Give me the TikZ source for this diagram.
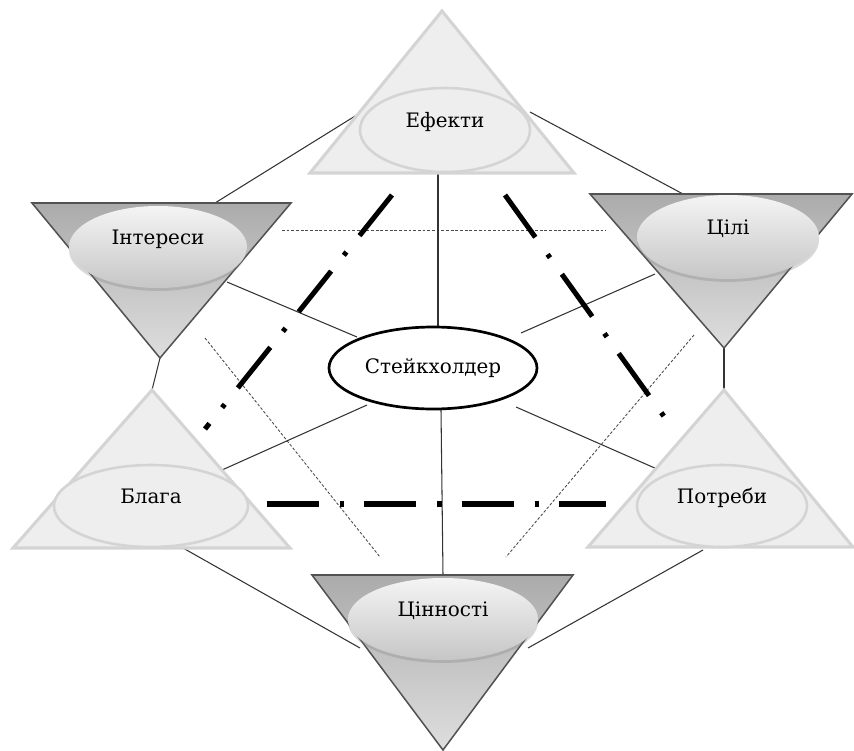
\documentclass[tikz,border=0pt]{standalone}
\usepackage{fontspec}
\setmainfont{DejaVu Serif}
\usetikzlibrary{shapes.geometric,shadows}
\newdimen\pxu \pxu=0.03cm
\definecolor{uptrifill}{HTML}{EEEEEE}
\definecolor{uptriline}{HTML}{D4D4D4}
\definecolor{downtop}{HTML}{ABABAB}
\definecolor{downbot}{HTML}{DEDEDE}
\definecolor{elltop}{HTML}{F4F4F4}
\definecolor{ellbot}{HTML}{C6C6C6}
\begin{document}
\begin{tikzpicture}[x=0.03cm,y=-0.03cm,
  lbl/.style={font=\fontsize{17}{20}\selectfont, text height=12.5pt, text depth=16pt},
  conn/.style={draw=black!80, line width=0.9pt},
  dotln/.style={draw=black!70, line width=0.75pt, dash pattern=on 2.4pt off 1.6pt},
  dashdot/.style={draw=black, line width=4.3pt, dash pattern=on 44.4pt off 17.9pt on 3.6pt off 17.3pt},
  uptri/.style={fill=uptrifill, draw=uptriline, line width=2.6pt, line join=miter},
  downtri/.style={draw=black!68, line width=1.3pt, top color=downtop, bottom color=downbot},
  upell/.style={ellipse, fill=uptrifill, draw=uptriline, line width=2.2pt, inner sep=0pt, lbl},
  downell/.style={ellipse, top color=elltop, bottom color=ellbot, draw=none, inner sep=0pt, lbl,
    drop shadow={opacity=0.3, shadow xshift=0pt, shadow yshift=-2.5pt}},
  stake/.style={ellipse, fill=white, draw=black, line width=2.3pt, inner sep=0pt,
    font=\fontsize{17}{20}\selectfont},
]
\useasboundingbox (0,0) rectangle (854,751);

% triangle corner coordinates
\coordinate (T1) at (442,11);  \coordinate (T2) at (310,173); \coordinate (T3) at (574,173);
\coordinate (I1) at (32,203);  \coordinate (I2) at (291,203); \coordinate (I3) at (160,358);
\coordinate (C1) at (590,194); \coordinate (C2) at (852,194); \coordinate (C3) at (724,348);
\coordinate (B1) at (152,390); \coordinate (B2) at (13,548);  \coordinate (B3) at (290,548);
\coordinate (P1) at (724,390); \coordinate (P2) at (588,547); \coordinate (P3) at (853,547);
\coordinate (V1) at (312,575); \coordinate (V2) at (573,575); \coordinate (V3) at (443,750);

% connector end points
\coordinate (eL) at (360,113); \coordinate (iT) at (215,203);
\coordinate (eR) at (530,112); \coordinate (cT) at (683,194);
\coordinate (eB) at (438,173); \coordinate (sT) at (438,328);
\coordinate (sB) at (441,410); \coordinate (vT) at (443,575);
\coordinate (iR) at (227,282); \coordinate (sIL) at (357,337);
\coordinate (cL) at (655,274); \coordinate (sCR) at (521,333);
\coordinate (bR) at (222,470); \coordinate (sBL) at (367,405);
\coordinate (pL) at (657,469); \coordinate (sBR) at (516,407);
\coordinate (bB) at (183,548); \coordinate (vL) at (360,648);
\coordinate (pB) at (703,550); \coordinate (vR) at (528,648);

% dotted and dash-dot guide lines
\coordinate (d1a) at (282,230); \coordinate (d1b) at (606,230);
\coordinate (d2a) at (205,338); \coordinate (d2b) at (380,557);
\coordinate (d3a) at (694,335); \coordinate (d3b) at (506,557);
\coordinate (h1a) at (267,504); \coordinate (h1b) at (606,504);
\coordinate (h2a) at (392,195); \coordinate (h2b) at (205,429);
\coordinate (h3a) at (505,195); \coordinate (h3b) at (673,429);

\draw[dotln] (d1a) -- (d1b);
\draw[dotln] (d2a) -- (d2b);
\draw[dotln] (d3a) -- (d3b);

\draw[conn] (eL) -- (iT);
\draw[conn] (eR) -- (cT);
\draw[conn] (eB) -- (sT);
\draw[conn] (sB) -- (vT);
\draw[conn] (iR) -- (sIL);
\draw[conn] (cL) -- (sCR);
\draw[conn] (bR) -- (sBL);
\draw[conn] (pL) -- (sBR);
\draw[conn] (bB) -- (vL);
\draw[conn] (pB) -- (vR);
\draw[conn] (I3) -- (B1);
\draw[conn] (C3) -- (P1);

\draw[dashdot] (h1a) -- (h1b);
\draw[dashdot] (h2a) -- (h2b);
\draw[dashdot] (h3a) -- (h3b);

% triangles
\path[uptri] (T1) -- (T2) -- (T3) -- cycle;
\path[uptri] (B1) -- (B2) -- (B3) -- cycle;
\path[uptri] (P1) -- (P2) -- (P3) -- cycle;
\path[downtri] (I1) -- (I2) -- (I3) -- cycle;
\path[downtri] (C1) -- (C2) -- (C3) -- cycle;
\path[downtri] (V1) -- (V2) -- (V3) -- cycle;

% ellipses
\node[upell, minimum width=170\pxu, minimum height=84\pxu] (ef) at (445,130) {Ефекти};
\node[upell, minimum width=194\pxu, minimum height=82\pxu] (bl) at (151,506) {Блага};
\node[upell, minimum width=170\pxu, minimum height=82\pxu] (po) at (722,506) {Потреби};
\node[downell, minimum width=178\pxu, minimum height=82\pxu] (in) at (158,247) {Інтереси};
\node[downell, minimum width=182\pxu, minimum height=84\pxu] (ci) at (728,237) {Цілі};
\node[downell, minimum width=190\pxu, minimum height=82\pxu] (va) at (443,619) {Цінності};

\node[stake, minimum width=208\pxu, minimum height=82\pxu] (st) at (433,368) {Стейкхолдер};
\end{tikzpicture}
\end{document}
